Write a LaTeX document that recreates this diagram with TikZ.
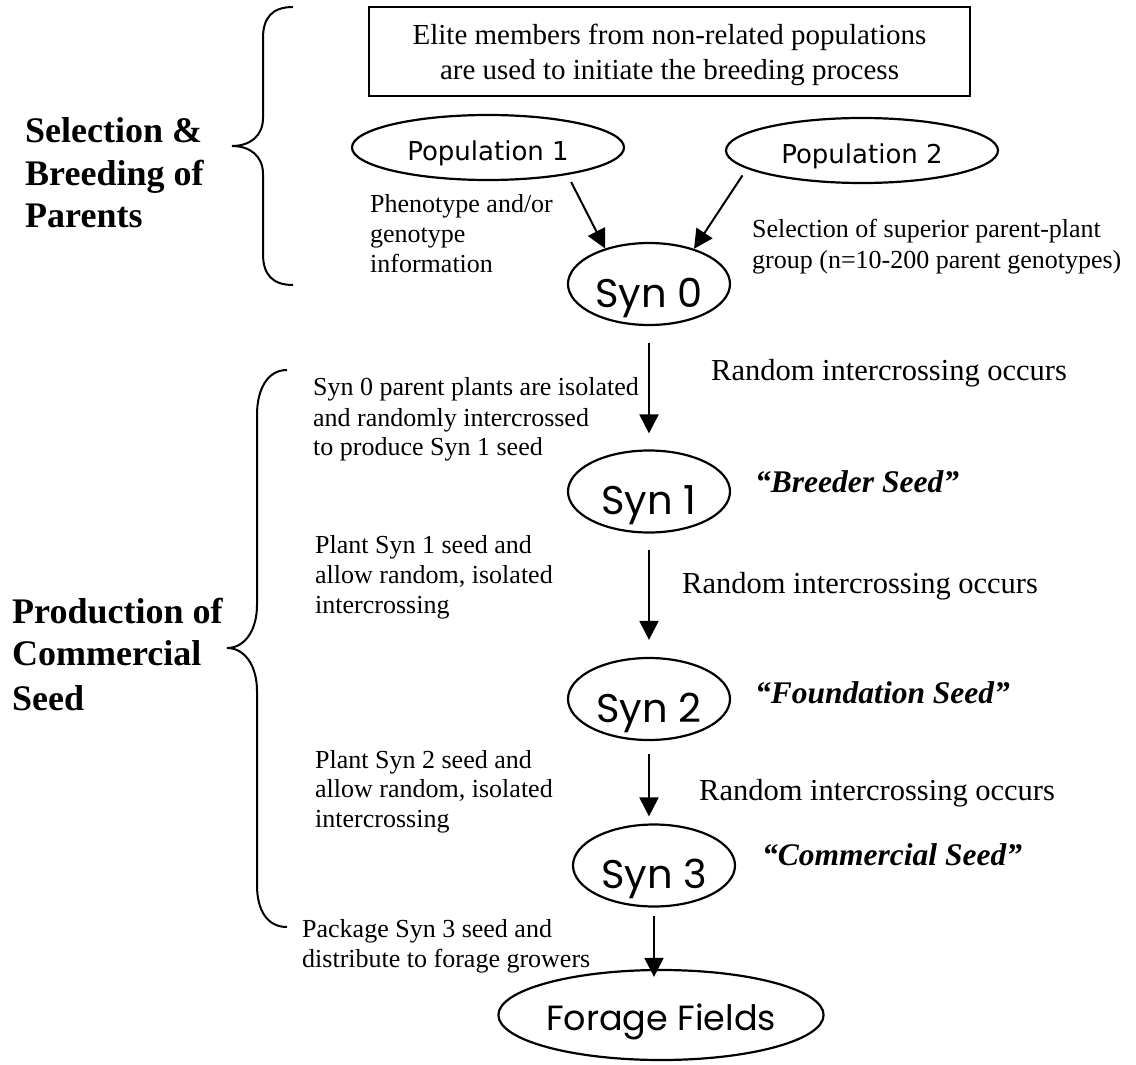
\documentclass[tikz,border=0pt]{standalone}
\usepackage{fontspec}
\setmainfont{Liberation Serif}
\newfontfamily\popfont{DejaVu Sans}
\newfontfamily\synfont{Poppins}
\usetikzlibrary{arrows.meta,shapes.geometric}
\begin{document}
\begin{tikzpicture}[x=1pt,y=-1pt,
 lab/.style={anchor=base west,inner sep=0pt,font=\fontsize{26}{30}\selectfont},
 big/.style={anchor=base west,inner sep=0pt,font=\fontsize{36}{42}\selectfont\bfseries},
 rnd/.style={anchor=base west,inner sep=0pt,font=\fontsize{30.5}{36}\selectfont},
 seedlab/.style={anchor=base west,inner sep=0pt,font=\fontsize{31.5}{36}\selectfont\bfseries\itshape},
 ell/.style={ellipse,draw,line width=2.2pt,inner sep=0pt},
 syn/.style={ell,minimum width=162pt,minimum height=82pt,text height=46pt,text depth=0pt,font=\synfont\fontsize{40}{44}\selectfont},
 pop/.style={ell,minimum width=272pt,minimum height=65pt,text height=26pt,text depth=0pt,font=\popfont\fontsize{26}{30}\selectfont},
 arr/.style={line width=2pt,-{Triangle[width=19pt,length=19pt]}},
 bracestyle/.style={line width=2pt}
]
\fill[white] (0,0) rectangle (1136,1065);
\useasboundingbox (0,0) rectangle (1136,1065);

\node[draw,line width=2pt,minimum width=601pt,minimum height=89pt,inner sep=0pt,align=center,font=\fontsize{29}{35}\selectfont] (box) at (669.5,51.5) {\rule{0pt}{27pt}Elite members from non-related populations\\are used to initiate the breeding process};

\node[pop] (pop1) at (488,147.5) {Population 1};
\node[pop] (pop2) at (862,150.5) {Population 2};
\node[syn] (syn0) at (649,284) {Syn 0};
\node[syn] (syn1) at (649,491.5) {Syn 1};
\node[syn] (syn2) at (649,699) {Syn 2};
\node[syn] (syn3) at (654,865.5) {Syn 3};
\node[ell,minimum width=316pt,minimum height=90pt,text height=30pt,text depth=0pt,font=\synfont\fontsize{35}{40}\selectfont] (forage) at (661,1015) {Forage Fields};

\node[big] (sel1) at (25,142) {Selection \&};
\node[big] (sel2) at (25,185) {Breeding of};
\node[big] (sel3) at (25,227) {Parents};
\node[big] (prod1) at (12,623) {Production of};
\node[big] (prod2) at (12,665) {Commercial};
\node[big] (prod3) at (12,710) {Seed};

\node[lab] (ph1) at (370,212) {Phenotype and/or};
\node[lab] (ph2) at (370,242) {genotype};
\node[lab] (ph3) at (370,272) {information};
\node[lab] (sp1) at (752,237) {Selection of superior parent-plant};
\node[lab] (sp2) at (752,268) {group (n=10-200 parent genotypes)};
\node[lab] (s0a) at (313,395) {Syn 0 parent plants are isolated};
\node[lab] (s0b) at (313,426) {and randomly intercrossed};
\node[lab] (s0c) at (313,455) {to produce Syn 1 seed};
\node[lab] (p1a) at (315,553) {Plant Syn 1 seed and};
\node[lab] (p1b) at (315,583) {allow random, isolated};
\node[lab] (p1c) at (315,613) {intercrossing};
\node[lab] (p2a) at (315,768) {Plant Syn 2 seed and};
\node[lab] (p2b) at (315,797) {allow random, isolated};
\node[lab] (p2c) at (315,827) {intercrossing};
\node[lab] (pk1) at (302,937) {Package Syn 3 seed and};
\node[lab] (pk2) at (302,967) {distribute to forage growers};
\node[rnd] (r1) at (711,380) {Random intercrossing occurs};
\node[rnd] (r2) at (682,593) {Random intercrossing occurs};
\node[rnd] (r3) at (699,800) {Random intercrossing occurs};
\node[seedlab] (bs) at (755,492) {“Breeder Seed”};
\node[seedlab] (fs) at (755,703) {“Foundation Seed”};
\node[seedlab] (cs) at (762,865) {“Commercial Seed”};

\draw[arr,shorten <=8pt] (pop1.-19) -- (syn0.141);
\draw[arr,shorten <=8pt] (pop2.-171) -- (syn0.38);
\draw[arr,shorten <=17pt,shorten >=16pt] (syn0) -- (syn1);
\draw[arr,shorten <=16pt,shorten >=17pt] (syn1) -- (syn2);
\draw[arr,shorten <=13pt,shorten >=7pt] (syn2.south) -- (syn2.south |- syn3.north);
\draw[arr,shorten <=8pt,shorten >=-8pt] (syn3.south) -- (syn3.south |- forage.north);

\draw[bracestyle] (293,7) .. controls (272,7) and (263,18) .. (263,38) -- (263,118)
  .. controls (263,136) and (250,146) .. (232,146)
  .. controls (250,146) and (263,156) .. (263,174) -- (263,254)
  .. controls (263,274) and (272,285) .. (293,285);
\draw[bracestyle] (287,370) .. controls (267,370) and (257,390) .. (257,415) -- (257,605)
  .. controls (257,630) and (245,648) .. (227,648)
  .. controls (245,648) and (257,666) .. (257,691) -- (257,885)
  .. controls (257,910) and (267,927) .. (287,927);
\end{tikzpicture}
\end{document}
